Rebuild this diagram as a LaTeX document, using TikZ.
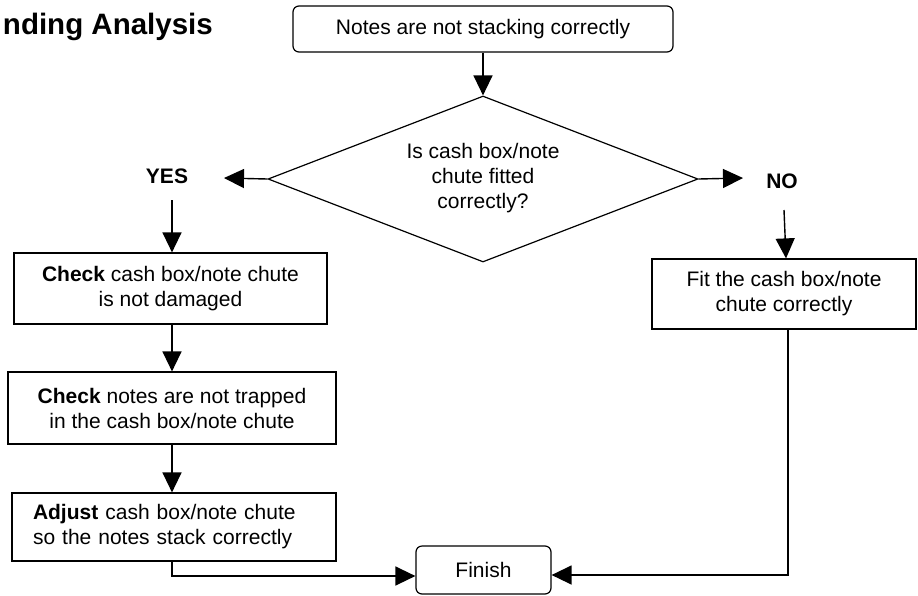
\documentclass[tikz,border=0pt]{standalone}
\usepackage{fontspec}
\setmainfont{Liberation Sans}
\usetikzlibrary{arrows.meta,shapes.geometric,calc}
\begin{document}
\begin{tikzpicture}[x=1pt,y=-1pt,
  every node/.style={font=\fontsize{21}{25}\selectfont},
  box/.style={draw,line width=1.2pt,inner sep=0pt,align=center},
  rbox/.style={box,rounded corners=6pt},
  conn/.style={line width=1.4pt,-{Triangle[length=20pt,width=19pt]}},
  plain/.style={line width=1.4pt},
  lbl/.style={font=\fontsize{21}{25}\selectfont\bfseries,inner sep=0pt}]
\useasboundingbox (0,0) rectangle (918,595);
\clip (0,0) rectangle (918,595);
\fill[white] (0,0) rectangle (918,595);

% title
\node[font=\fontsize{29.5}{34}\selectfont\bfseries,anchor=base east,inner sep=0pt] (title) at (213,34) {nding Analysis};

% top box
\node[rbox,minimum width=380pt,minimum height=46pt] (top) at (483,29) {Notes are not stacking correctly};

% decision
\node[diamond,draw,line width=1.2pt,minimum width=430pt,minimum height=166pt,inner sep=0pt] (dia) at (483,179) {};
\node[align=center,inner sep=0pt] (diat) at (483,178) {Is cash box/note\\chute fitted\\correctly?};

% labels
\node[lbl] (yes) at (167,176) {YES};
\node[lbl] (no) at (782,181) {NO};
\coordinate (yesin) at (224,178);
\coordinate (noin) at (743,178);
\coordinate (yesout) at (172,200);
\coordinate (noout) at (784,210);

% left boxes
\node[box,minimum width=313pt,minimum height=71pt] (b1) at (170.5,288.5) {\textbf{Check} cash box/note chute\\is not damaged};
\node[box,minimum width=328pt,minimum height=72pt] (b2) at (172,408) {\textbf{Check} notes are not trapped\\in the cash box/note chute};
\node[draw,line width=1.2pt,align=left,text width=282pt,inner xsep=21pt,inner ysep=0pt,minimum height=68pt] (b3) at (174,527) {\textbf{Adjust} cash box/note chute\\so the notes stack correctly};

% right box
\node[box,minimum width=264pt,minimum height=70pt] (fit) at (784,294) {Fit the cash box/note\\chute correctly};

% finish
\node[rbox,minimum width=135pt,minimum height=48pt] (fin) at (483.5,570) {Finish};

% connectors
\draw[conn] (top.south) -- (dia.north);
\draw[conn] (dia.west) -- (yesin);
\draw[conn] (dia.east) -- (noin);
\draw[conn] (yesout) -- (yesout |- b1.north);
\draw[conn] (noout) -- ([xshift=2pt]fit.north);
\draw[conn] (b1.south -| yesout) -- (yesout |- b2.north);
\draw[conn] (b2.south -| yesout) -- (yesout |- b3.north);
\draw[conn] (b3.south -| yesout) |- ([yshift=-6pt]fin.west);
\draw[conn] ([xshift=4pt]fit.south) |- ([yshift=-5pt]fin.east);
\end{tikzpicture}
\end{document}
